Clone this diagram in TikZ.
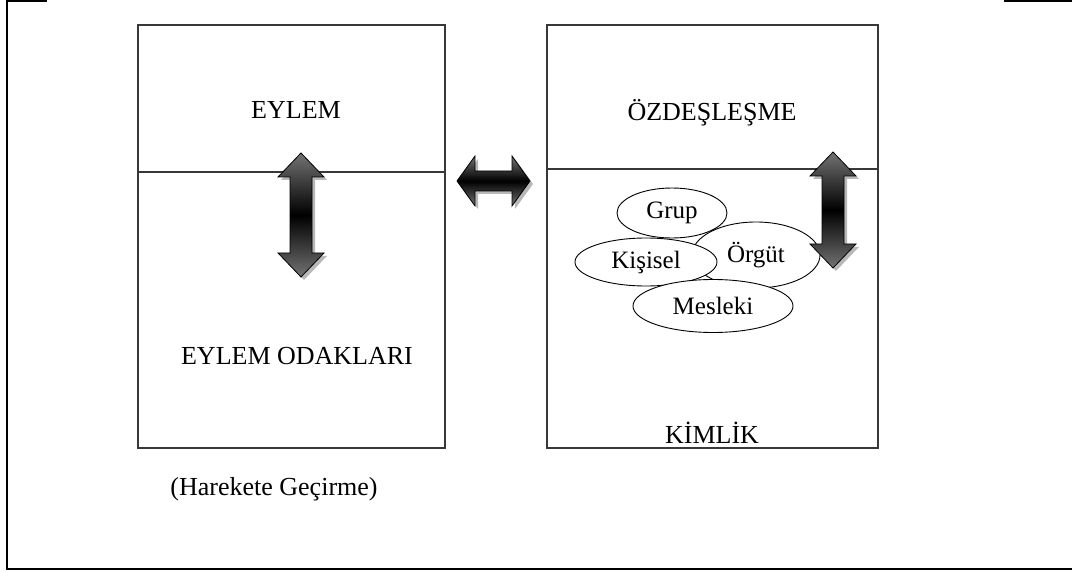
\documentclass[tikz,border=0pt]{standalone}
\usepackage{fontspec}
\setmainfont{Liberation Serif}
\usetikzlibrary{shapes.geometric}

% vertical double arrow: centre x, top tip y, bottom tip y
\newcommand\vdblpath[3]{(#1,#2) -- ++(23,24) -- ++(-12,0) -- (#1+11,#3-24) -- ++(12,0) -- (#1,#3) -- ++(-23,-24) -- ++(12,0) -- (#1-11,#2+24) -- ++(-12,0) -- cycle}
% horizontal double arrow: left tip x, right tip x, centre y
\newcommand\hdblpath[3]{(#1,#3) -- ++(18,-25) -- ++(0,15) -- (#2-18,#3-10) -- ++(0,-15) -- (#2,#3) -- ++(-18,25) -- ++(0,-15) -- (#1+18,#3+10) -- ++(0,15) -- cycle}

\begin{document}
\begin{tikzpicture}[x=1pt,y=-1pt,
  frame/.style={line width=2.2pt, black},
  panel/.style={draw=black!78, line width=1.4pt},
  label/.style={font=\fontsize{26}{30}\selectfont, anchor=base, inner sep=0pt},
  bubble/.style={ellipse, draw=black, line width=0.9pt, fill=white, inner sep=0pt,
    font=\fontsize{25}{28}\selectfont},
  arrowbody/.style={draw=black, line width=0.8pt, top color=black!55,
    bottom color=black!55, middle color=black},
  arrowshadow/.style={fill=black!28, draw=none}
]
\useasboundingbox (0,0) rectangle (1072,572);

% outer frame
\draw[frame] (47,1) -- (7,1) -- (7,569) -- (1072,569);
\draw[frame] (1004,1) -- (1072,1);

% left panel: action
\draw[panel] (138,25) rectangle (445,448);
\draw[panel] (138,172) -- (445,172);
% right panel: identification
\draw[panel] (547,25) rectangle (878,448);
\draw[panel] (547,169) -- (878,169);

% panel texts
\node[label] (eylem) at (296,119) {EYLEM};
\node[label] (odak) at (297,364) {EYLEM ODAKLARI};
\node[label] (ozdes) at (712,121) {ÖZDEŞLEŞME};
\node[label] (kimlik) at (712,443) {KİMLİK};
\node[label] (harekete) at (274,495) {(Harekete Geçirme)};

% identity bubbles, back to front
\node[bubble, minimum width=110, minimum height=50] (grup) at (672,213) {Grup};
\node[bubble, minimum width=128, minimum height=66] (orgut) at (756,255) {Örgüt};
\node[bubble, minimum width=142, minimum height=48] (kisisel) at (646,262) {Kişisel};
\node[bubble, minimum width=160, minimum height=53] (mesleki) at (713,306) {Mesleki};

% shaded double arrows with soft shadows
\begin{scope}[shift={(3,3)}]
  \fill[arrowshadow] \vdblpath{301}{153}{277};
  \fill[arrowshadow] \vdblpath{833}{152}{268};
  \fill[arrowshadow] \hdblpath{457}{530}{181};
\end{scope}
\path[arrowbody] \vdblpath{301}{153}{277};
\path[arrowbody] \vdblpath{833}{152}{268};
\path[arrowbody] \hdblpath{457}{530}{181};
\end{tikzpicture}
\end{document}
